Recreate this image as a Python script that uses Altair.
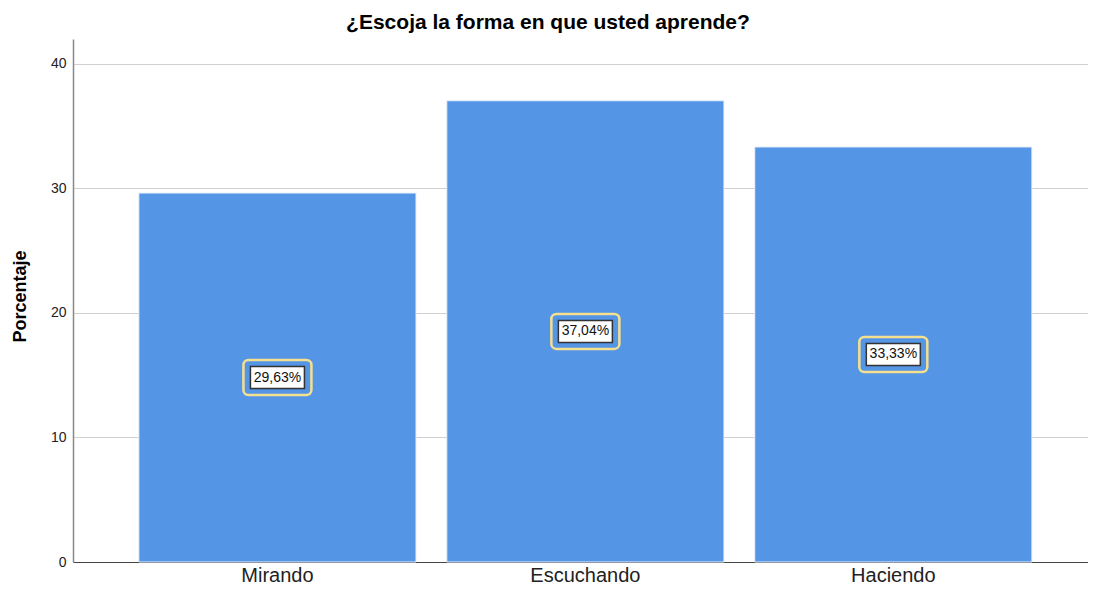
import altair as alt
import pandas as pd

categories = ["Mirando", "Escuchando", "Haciendo"]
values = [29.63, 37.04, 33.33]
labels = ["29,63%", "37,04%", "33,33%"]

df = pd.DataFrame({"cat": categories, "val": values, "lab": labels})

FONT = "Liberation Sans"
BLUE = "#5595e5"

x = alt.X("cat:N", sort=categories, title=None,
          scale=alt.Scale(paddingInner=0.1, paddingOuter=0.198, align=0.54),
          axis=alt.Axis(labelAngle=0, labelFontSize=20, labelFont=FONT, labelColor="#222",
                        tickSize=0, labelPadding=19, labelBaseline="alphabetic",
                        domainColor="#444", domainWidth=1.2, grid=False))

base = alt.Chart(df).encode(x=x)

bars = base.mark_bar(color=BLUE, stroke="#e8f0fb", strokeWidth=1).encode(
    y=alt.Y("val:Q", title="Porcentaje",
            scale=alt.Scale(domain=[0, 42], nice=False),
            axis=alt.Axis(values=[0, 10, 20, 30, 40], labelFontSize=14, labelFont=FONT,
                          labelColor="#222", tickSize=0, labelPadding=7,
                          domainColor="#888", domainWidth=1.5,
                          gridColor="#d0d0d0", gridWidth=1.2,
                          titleFontSize=18, titleFont=FONT, titleFontWeight="bold",
                          titleColor="#000", titleX=-53, titleY=257,
                          titleAngle=-90, titleAlign="center", titleBaseline="middle"))
)

mid = base.transform_calculate(mid="datum.val / 2")

outer = mid.mark_bar(width=68, fill=BLUE, stroke="#f5e08f", strokeWidth=2.5,
                     cornerRadius=5, yOffset=-17.5, y2Offset=17.5).encode(
    y=alt.Y("mid:Q"), y2="mid:Q")

inner = mid.mark_bar(width=54, fill="white", stroke="#333", strokeWidth=1.5,
                     yOffset=-11, y2Offset=11).encode(
    y=alt.Y("mid:Q"), y2="mid:Q")

text = mid.mark_text(fontSize=14, font=FONT, color="#111", baseline="middle").encode(
    y=alt.Y("mid:Q"), text="lab:N")

chart = alt.layer(bars, outer, inner, text).properties(
    width=1015, height=523,
    title=alt.TitleParams("¿Escoja la forma en que usted aprende?", fontSize=21,
                          font=FONT, fontWeight="bold", color="#000",
                          offset=6, dx=-32.5),
    autosize=alt.AutoSizeParams(type="none"),
    padding={"left": 65, "top": 31, "right": 0, "bottom": 24},
).configure_view(stroke=None)

chart.save("out.html", embed_options={"renderer": "svg", "actions": False})
